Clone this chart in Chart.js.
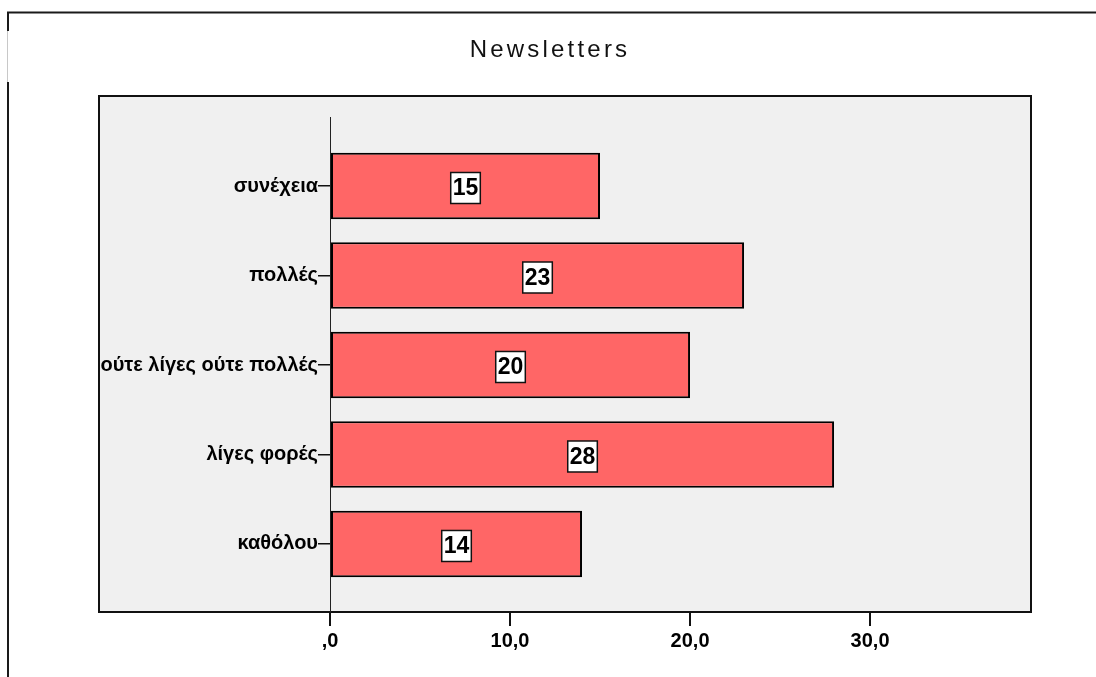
<!DOCTYPE html>
<html>
<head>
<meta charset="utf-8">
<script src="https://cdn.jsdelivr.net/npm/chart.js@4/dist/chart.umd.min.js"></script>
<style>
  html, body { margin: 0; padding: 0; background: #fff; }
  canvas { display: block; }
</style>
</head>
<body>
<canvas id="c" width="1096" height="677"></canvas>
<script>
// Chart content
const chartTitle = 'Newsletters';
const categories = ['καθόλου', 'λίγες φορές', 'ούτε λίγες ούτε πολλές', 'πολλές', 'συνέχεια'];
const counts = [14, 28, 20, 23, 15];
const xTickValues = [0, 10, 20, 30];
const xTickLabels = [',0', '10,0', '20,0', '30,0'];

const FONT = '"Liberation Sans", Arial, sans-serif';

// Grey plot panel, drawn behind the axes (extends left under the category labels)
const panelPlugin = {
  id: 'panel',
  beforeDraw(chart, args, opts) {
    const { ctx, chartArea } = chart;
    const left = opts.left, top = opts.top;
    ctx.save();
    ctx.fillStyle = '#f0f0f0';
    ctx.fillRect(left, top, chartArea.right - left, chartArea.bottom - top);
    ctx.strokeStyle = '#111';
    ctx.lineWidth = 2;
    ctx.strokeRect(left, top, chartArea.right - left, chartArea.bottom - top);
    ctx.restore();
  }
};

// Value boxes in the middle of each bar
const valueBoxPlugin = {
  id: 'valueBoxes',
  afterDatasetsDraw(chart) {
    const { ctx } = chart;
    const meta = chart.getDatasetMeta(0);
    const data = chart.data.datasets[0].data;
    ctx.save();
    ctx.font = 'bold 23px ' + FONT;
    ctx.textAlign = 'center';
    ctx.textBaseline = 'middle';
    meta.data.forEach((bar, i) => {
      const p = bar.getProps(['x', 'y', 'base'], true);
      const cx = (p.x + p.base) / 2;
      const cy = p.y + 2;
      const txt = String(data[i].x);
      const w = ctx.measureText(txt).width + 4;
      const h = 31;
      ctx.fillStyle = '#fff';
      ctx.fillRect(cx - w / 2, cy - h / 2, w, h);
      ctx.strokeStyle = '#111';
      ctx.lineWidth = 1.5;
      ctx.strokeRect(cx - w / 2, cy - h / 2, w, h);
      ctx.fillStyle = '#000';
      ctx.fillText(txt, cx, cy + 1);
    });
    ctx.restore();
  }
};

// Title with spaced letters, and the outer frame lines
const framePlugin = {
  id: 'frame',
  afterDraw(chart) {
    const { ctx, width } = chart;
    ctx.save();
    ctx.font = '24px ' + FONT;
    ctx.letterSpacing = '3.2px';
    ctx.fillStyle = '#111';
    ctx.textAlign = 'center';
    ctx.textBaseline = 'alphabetic';
    ctx.fillText(chartTitle, width / 2 + 2, 57);
    ctx.restore();

    ctx.save();
    ctx.lineWidth = 2;
    ctx.strokeStyle = '#1a1a1a';
    ctx.beginPath();
    ctx.moveTo(7, 12.5); ctx.lineTo(width, 12.5);
    ctx.moveTo(8, 12); ctx.lineTo(8, 31);
    ctx.moveTo(8, 82); ctx.lineTo(8, chart.height);
    ctx.stroke();
    ctx.strokeStyle = '#c8c8c8';
    ctx.lineWidth = 1;
    ctx.beginPath();
    ctx.moveTo(7.5, 31); ctx.lineTo(7.5, 82);
    ctx.stroke();
    ctx.restore();
  }
};

new Chart(document.getElementById('c'), {
  type: 'bar',
  data: {
    datasets: [{
      data: categories.map((c, i) => ({ x: counts[i], y: i })),
      backgroundColor: 'rgb(255,102,102)',
      borderColor: '#000',
      borderWidth: 2,
      borderSkipped: false,
      barPercentage: 0.744,
      categoryPercentage: 1
    }]
  },
  options: {
    indexAxis: 'y',
    responsive: false,
    animation: false,
    layout: { padding: { top: 117, right: 65, left: 0, bottom: 0 } },
    plugins: {
      legend: { display: false },
      tooltip: { enabled: false },
      title: { display: false },
      panel: { left: 99, top: 96 }
    },
    scales: {
      x: {
        type: 'linear',
        position: 'bottom',
        min: 0,
        max: 38.94,
        afterBuildTicks(scale) { scale.ticks = xTickValues.map(v => ({ value: v })); },
        afterFit(scale) { scale.height = 65; },
        ticks: {
          font: { family: FONT, size: 20, weight: 'bold' },
          color: '#000',
          padding: 3,
          maxRotation: 0,
          callback: (v) => xTickLabels[xTickValues.indexOf(v)]
        },
        grid: { drawOnChartArea: false, drawTicks: true, tickLength: 14, color: '#111', lineWidth: 2 },
        border: { display: true, color: '#111', width: 2 }
      },
      y: {
        type: 'linear',
        position: 'left',
        offset: false,
        min: -0.76,
        max: 4.771,
        afterBuildTicks(scale) { scale.ticks = categories.map((c, i) => ({ value: i })); },
        afterFit(scale) { scale.width = 330; },
        ticks: {
          font: { family: FONT, size: 20, weight: 'bold' },
          color: '#000',
          padding: 0,
          callback: (v) => categories[v]
        },
        grid: { offset: false, drawOnChartArea: false, drawTicks: true, tickLength: 12, color: '#111', lineWidth: 1.5 },
        border: { display: true, color: '#222', width: 1 }
      }
    }
  },
  plugins: [panelPlugin, valueBoxPlugin, framePlugin]
});
</script>
</body>
</html>
